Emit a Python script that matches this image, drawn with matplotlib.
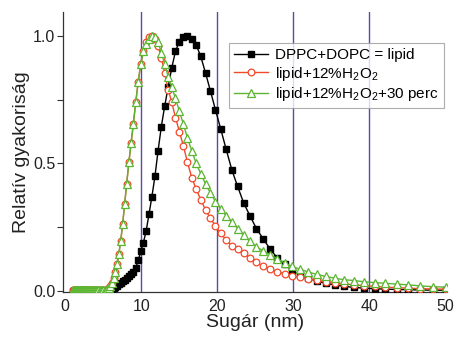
import matplotlib
matplotlib.use("Agg")
import matplotlib.pyplot as plt

plt.rcParams["font.family"] = ["Liberation Sans", "DejaVu Sans"]
plt.rcParams["mathtext.fontset"] = "custom"
plt.rcParams["mathtext.rm"] = "Liberation Sans"
plt.rcParams["mathtext.it"] = "Liberation Sans:italic"

# radius grid (nm), shared by all three curves
radius = [
    1.06, 1.10, 1.14, 1.18, 1.22, 1.26, 1.30, 1.35, 1.40, 1.45,
    1.50, 1.55, 1.60, 1.66, 1.72, 1.78, 1.84, 1.90, 1.97, 2.04,
    2.11, 2.18, 2.26, 2.34, 2.42, 2.51, 2.59, 2.68, 2.78, 2.88,
    2.98, 3.08, 3.19, 3.30, 3.42, 3.54, 3.66, 3.79, 3.92, 4.06,
    4.20, 4.35, 4.50, 4.66, 4.82, 4.99, 5.16, 5.34, 5.53, 5.72,
    5.92, 6.13, 6.35, 6.57, 6.80, 7.04, 7.28, 7.54, 7.80, 8.07,
    8.36, 8.65, 8.95, 9.26, 9.59, 9.92, 10.27, 10.63, 11.00, 11.39,
    11.79, 12.20, 12.63, 13.07, 13.53, 14.00, 14.49, 15.00, 15.52, 16.06,
    16.63, 17.21, 17.81, 18.44, 19.08, 19.75, 20.44, 21.16, 21.90, 22.66,
    23.46, 24.28, 25.13, 26.01, 26.92, 27.86, 28.83, 29.84, 30.89, 31.97,
    33.09, 34.25, 35.45, 36.69, 37.97, 39.30, 40.67, 42.10, 43.57, 45.10,
    46.67, 48.31, 50.00,
]

lipid = [
    0.0, 0.0, 0.0, 0.0, 0.0, 0.0, 0.0, 0.0, 0.0, 0.0,
    0.0, 0.0, 0.0, 0.0, 0.0, 0.0, 0.0, 0.0, 0.0, 0.0,
    0.0, 0.0, 0.0, 0.0, 0.0, 0.0, 0.0, 0.0, 0.0, 0.0,
    0.0, 0.0, 0.0, 0.0, 0.0, 0.0, 0.0, 0.0, 0.0, 0.0,
    0.0, 0.0, 0.0, 0.0, 0.0, 0.0, 0.0, 0.0, 0.0, 0.001,
    0.003, 0.006, 0.010, 0.015, 0.020, 0.026, 0.032, 0.038, 0.045, 0.052,
    0.059, 0.066, 0.076, 0.090, 0.120, 0.155, 0.190, 0.235, 0.300, 0.370,
    0.450, 0.550, 0.645, 0.725, 0.800, 0.875, 0.940, 0.978, 0.997, 1.000,
    0.990, 0.965, 0.920, 0.855, 0.785, 0.710, 0.635, 0.555, 0.475, 0.410,
    0.345, 0.295, 0.245, 0.205, 0.165, 0.130, 0.105, 0.080, 0.062, 0.050,
    0.039, 0.030, 0.024, 0.018, 0.014, 0.011, 0.009, 0.007, 0.006, 0.005,
    0.004, 0.003, 0.003,
]

lipid_h2o2 = [
    0.003, 0.003, 0.003, 0.003, 0.003, 0.003, 0.003, 0.003, 0.003, 0.003,
    0.003, 0.003, 0.003, 0.003, 0.003, 0.003, 0.003, 0.003, 0.003, 0.003,
    0.003, 0.003, 0.003, 0.003, 0.003, 0.003, 0.003, 0.003, 0.003, 0.003,
    0.003, 0.003, 0.003, 0.003, 0.003, 0.003, 0.003, 0.003, 0.003, 0.003,
    0.003, 0.003, 0.003, 0.003, 0.003, 0.003, 0.003, 0.003, 0.006, 0.010,
    0.018, 0.030, 0.050, 0.075, 0.105, 0.145, 0.195, 0.262, 0.340, 0.420,
    0.505, 0.580, 0.655, 0.740, 0.820, 0.890, 0.940, 0.978, 0.995, 1.000,
    0.990, 0.960, 0.915, 0.855, 0.790, 0.740, 0.680, 0.625, 0.570, 0.505,
    0.445, 0.400, 0.358, 0.318, 0.285, 0.255, 0.226, 0.200, 0.178, 0.163,
    0.148, 0.130, 0.112, 0.098, 0.086, 0.076, 0.067, 0.060, 0.054, 0.048,
    0.042, 0.037, 0.032, 0.028, 0.024, 0.021, 0.018, 0.015, 0.013, 0.011,
    0.009, 0.008, 0.007,
]

lipid_h2o2_30 = [
    0.003, 0.003, 0.003, 0.003, 0.003, 0.003, 0.003, 0.003, 0.003, 0.003,
    0.003, 0.003, 0.003, 0.003, 0.003, 0.003, 0.003, 0.003, 0.003, 0.003,
    0.003, 0.003, 0.003, 0.003, 0.003, 0.003, 0.003, 0.003, 0.003, 0.003,
    0.003, 0.003, 0.003, 0.003, 0.003, 0.003, 0.003, 0.003, 0.003, 0.003,
    0.003, 0.003, 0.003, 0.003, 0.003, 0.003, 0.003, 0.003, 0.006, 0.010,
    0.018, 0.030, 0.050, 0.075, 0.105, 0.145, 0.195, 0.262, 0.340, 0.420,
    0.505, 0.580, 0.655, 0.740, 0.820, 0.890, 0.940, 0.970, 0.990, 1.000,
    0.997, 0.975, 0.935, 0.890, 0.840, 0.800, 0.755, 0.705, 0.655, 0.600,
    0.550, 0.500, 0.460, 0.420, 0.385, 0.350, 0.322, 0.295, 0.270, 0.245,
    0.218, 0.195, 0.174, 0.157, 0.143, 0.127, 0.110, 0.096, 0.085, 0.074,
    0.065, 0.057, 0.050, 0.044, 0.041, 0.036, 0.033, 0.030, 0.027, 0.024,
    0.020, 0.017, 0.015,
]

labels = [
    "DPPC+DOPC = lipid",
    "lipid+12%H$_2$O$_2$",
    "lipid+12%H$_2$O$_2$+30 perc",
]
guide_x = [10, 20, 30, 40]

fig = plt.figure(figsize=(4.6, 3.43), dpi=100)
ax = fig.add_axes([0.137, 0.1487, 0.8348, 0.8163])

for gx in guide_x:
    ax.axvline(gx, color="#5a4aa6", lw=1.0, zorder=1)

ax.plot(radius, lipid, color="black", lw=1.0, marker="s", ms=4.4,
        mfc="black", mec="black", label=labels[0], zorder=3)
ax.plot(radius, lipid_h2o2, color="#f2492a", lw=1.0, marker="o", ms=4.8,
        mfc="white", mec="#f2492a", mew=0.9, label=labels[1], zorder=4)
ax.plot(radius, lipid_h2o2_30, color="#5cb531", lw=1.0, marker="^", ms=5.4,
        mfc="white", mec="#5cb531", mew=0.9, label=labels[2], zorder=5)

ax.set_xlim(-0.3, 50.2)
ax.set_ylim(-0.004, 1.094)
ax.set_xticks([0, 10, 20, 30, 40, 50])
ax.set_yticks([0.0, 0.5, 1.0])
ax.set_yticks([0.25, 0.75], minor=True)
ax.set_yticklabels(["0.0", "0.5", "1.0"])

for side in ["top", "right"]:
    ax.spines[side].set_visible(False)
for side in ["left", "bottom"]:
    ax.spines[side].set_color("#333333")
    ax.spines[side].set_linewidth(0.9)

ax.tick_params(axis="x", length=0, pad=5, labelsize=11.5, colors="#222222")
ax.tick_params(axis="y", which="both", length=4, width=0.8, pad=1.5,
               labelsize=11.5, colors="#333333", labelcolor="#222222")

ax.set_xlabel("Sugár (nm)", fontsize=14, labelpad=0, color="#222222")
ax.set_ylabel("Relatív gyakoriság", fontsize=14, labelpad=2, color="#222222")

leg = ax.legend(loc="upper left", bbox_to_anchor=(0.432, 0.889), borderaxespad=0,
                fontsize=11, frameon=True, fancybox=False, handlelength=2.2,
                handletextpad=0.45, labelspacing=0.15, borderpad=0.35)
leg.get_frame().set_edgecolor("#999999")
leg.get_frame().set_linewidth(0.8)
leg.set_zorder(10)

fig.savefig("out.png", dpi=100)
